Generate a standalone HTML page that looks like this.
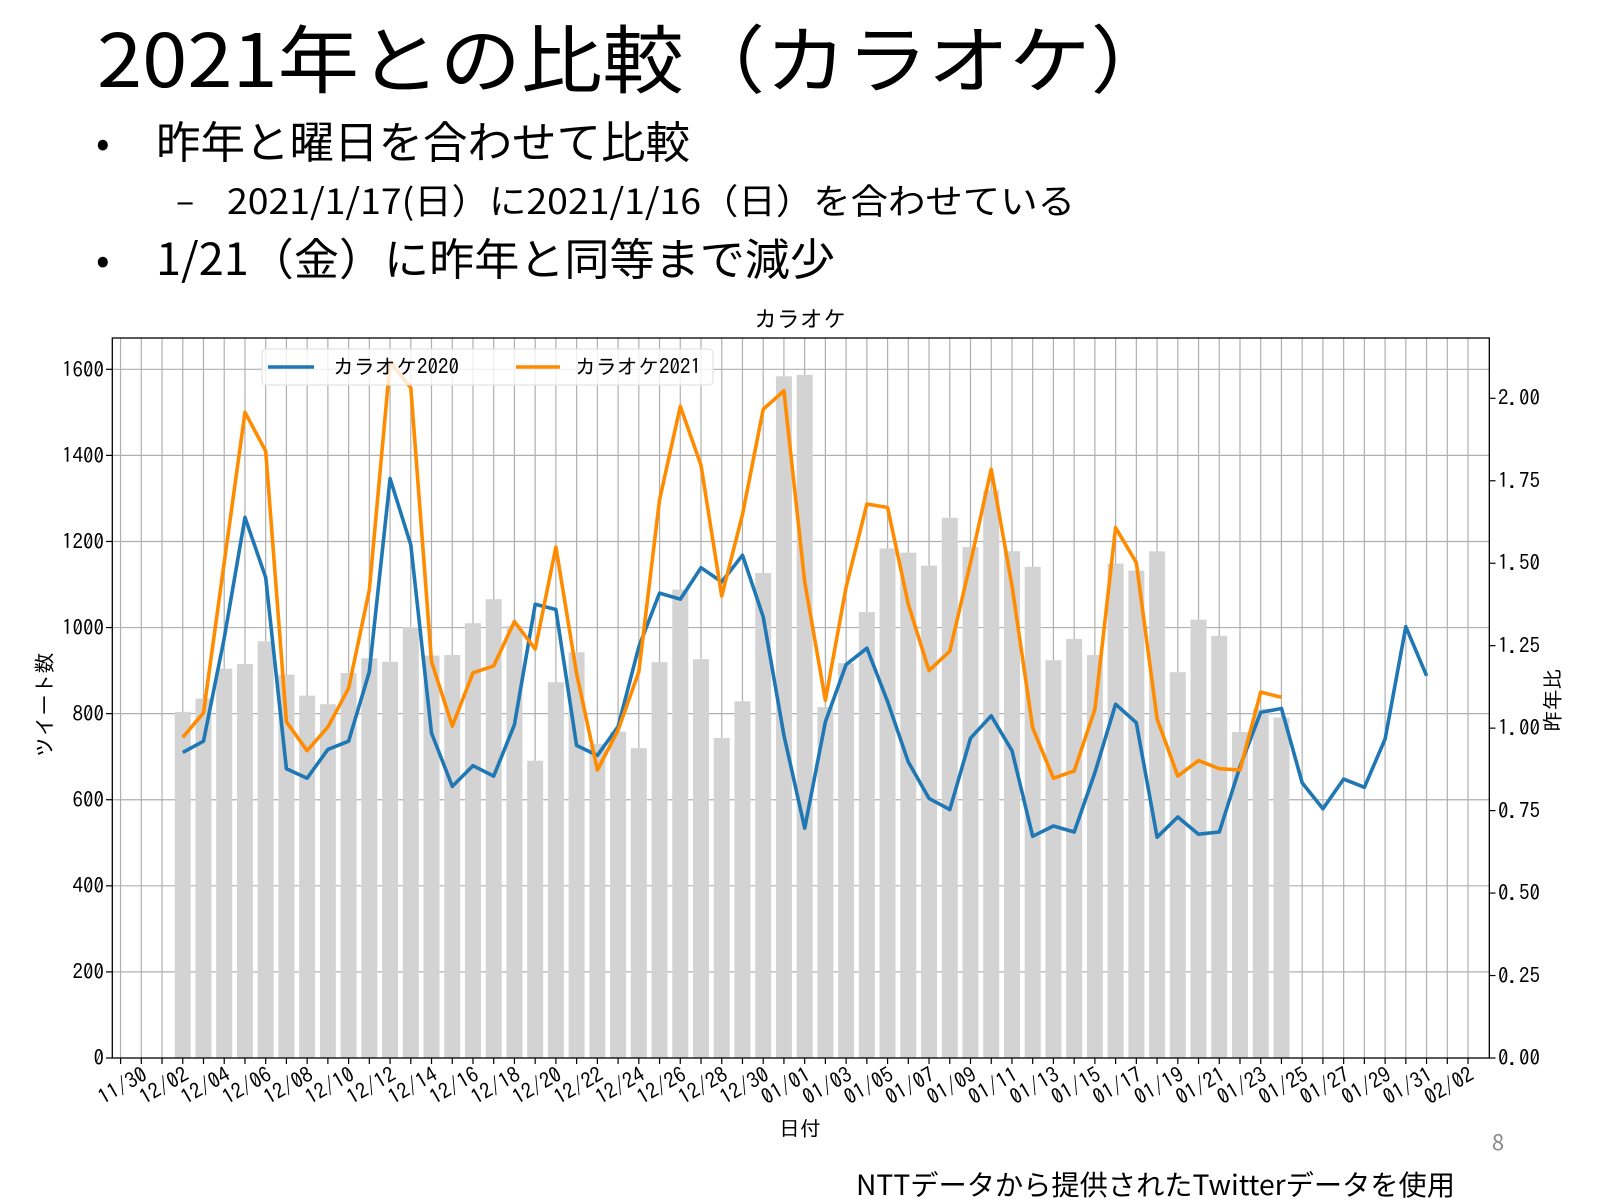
<!DOCTYPE html>
<html><head><meta charset="utf-8"><style>
body{margin:0;background:#fff;}
svg{display:block;font-family:"Noto Sans CJK JP",sans-serif;}
.t{font-family:"IPAGothic","Noto Sans CJK JP",monospace;font-size:21px;fill:#000;}
</style></head><body>
<svg id="s" width="1601" height="1200" viewBox="0 0 1601 1200" xmlns="http://www.w3.org/2000/svg">
<text x="97" y="87" font-size="74" fill="#000" textLength="1075" lengthAdjust="spacingAndGlyphs">2021年との比較（カラオケ）</text>
<text x="96" y="157" font-size="40">•</text>
<text x="156" y="158" font-size="44" textLength="534" lengthAdjust="spacingAndGlyphs">昨年と曜日を合わせて比較</text>
<text x="176" y="213" font-size="34">–</text>
<text x="227" y="214" font-size="35" textLength="848" lengthAdjust="spacingAndGlyphs">2021/1/17(日）に2021/1/16（日）を合わせている</text>
<text x="96" y="274" font-size="40">•</text>
<text x="156" y="275" font-size="44" textLength="679" lengthAdjust="spacingAndGlyphs">1/21（金）に昨年と同等まで減少</text>
<text x="800" y="327" text-anchor="middle" class="t" style="font-size:23px">カラオケ</text>
<g id="grid" stroke="#b0b0b0" stroke-width="1.2"></g>
<g id="bars" fill="#d3d3d3"></g>
<g id="lines" fill="none" stroke-width="3.6" stroke-linejoin="round"></g>
<rect x="112.3" y="338" width="1377" height="720" fill="none" stroke="#000" stroke-width="1.3"/>
<g id="ticks" stroke="#000" stroke-width="1.2"></g>
<rect x="262" y="349" width="451" height="36" rx="4" fill="#fff" fill-opacity="0.8" stroke="#ddd"/>
<line x1="268" y1="367" x2="314" y2="367" stroke="#1f77b4" stroke-width="3.6"/>
<text x="333" y="374" class="t">カラオケ2020</text>
<line x1="516" y1="367" x2="560" y2="367" stroke="#ff8c00" stroke-width="3.6"/>
<text x="575" y="374" class="t">カラオケ2021</text>
<g class="t" text-anchor="end">
<text x="104" y="1065">0</text><text x="104" y="979">200</text><text x="104" y="893">400</text><text x="104" y="807">600</text><text x="104" y="721">800</text><text x="104" y="635">1000</text><text x="104" y="549">1200</text><text x="104" y="463">1400</text><text x="104" y="377">1600</text>
</g>
<g class="t">
<text x="1498" y="1065">0.00</text><text x="1498" y="983">0.25</text><text x="1498" y="900">0.50</text><text x="1498" y="818">0.75</text><text x="1498" y="735">1.00</text><text x="1498" y="653">1.25</text><text x="1498" y="570">1.50</text><text x="1498" y="488">1.75</text><text x="1498" y="405">2.00</text>
</g>
<g class="t" text-anchor="end">
<text transform="translate(141.3,1066) rotate(-30)" y="15">11/30</text>
<text transform="translate(182.8,1066) rotate(-30)" y="15">12/02</text>
<text transform="translate(224.2,1066) rotate(-30)" y="15">12/04</text>
<text transform="translate(265.7,1066) rotate(-30)" y="15">12/06</text>
<text transform="translate(307.1,1066) rotate(-30)" y="15">12/08</text>
<text transform="translate(348.6,1066) rotate(-30)" y="15">12/10</text>
<text transform="translate(390.1,1066) rotate(-30)" y="15">12/12</text>
<text transform="translate(431.5,1066) rotate(-30)" y="15">12/14</text>
<text transform="translate(473,1066) rotate(-30)" y="15">12/16</text>
<text transform="translate(514.4,1066) rotate(-30)" y="15">12/18</text>
<text transform="translate(555.9,1066) rotate(-30)" y="15">12/20</text>
<text transform="translate(597.4,1066) rotate(-30)" y="15">12/22</text>
<text transform="translate(638.8,1066) rotate(-30)" y="15">12/24</text>
<text transform="translate(680.3,1066) rotate(-30)" y="15">12/26</text>
<text transform="translate(721.7,1066) rotate(-30)" y="15">12/28</text>
<text transform="translate(763.2,1066) rotate(-30)" y="15">12/30</text>
<text transform="translate(804.7,1066) rotate(-30)" y="15">01/01</text>
<text transform="translate(846.1,1066) rotate(-30)" y="15">01/03</text>
<text transform="translate(887.6,1066) rotate(-30)" y="15">01/05</text>
<text transform="translate(929,1066) rotate(-30)" y="15">01/07</text>
<text transform="translate(970.5,1066) rotate(-30)" y="15">01/09</text>
<text transform="translate(1012,1066) rotate(-30)" y="15">01/11</text>
<text transform="translate(1053.4,1066) rotate(-30)" y="15">01/13</text>
<text transform="translate(1094.9,1066) rotate(-30)" y="15">01/15</text>
<text transform="translate(1136.3,1066) rotate(-30)" y="15">01/17</text>
<text transform="translate(1177.8,1066) rotate(-30)" y="15">01/19</text>
<text transform="translate(1219.3,1066) rotate(-30)" y="15">01/21</text>
<text transform="translate(1260.7,1066) rotate(-30)" y="15">01/23</text>
<text transform="translate(1302.2,1066) rotate(-30)" y="15">01/25</text>
<text transform="translate(1343.6,1066) rotate(-30)" y="15">01/27</text>
<text transform="translate(1385.1,1066) rotate(-30)" y="15">01/29</text>
<text transform="translate(1426.6,1066) rotate(-30)" y="15">01/31</text>
<text transform="translate(1468,1066) rotate(-30)" y="15">02/02</text>
</g>
<text x="800" y="1136" class="t" text-anchor="middle">日付</text>
<text class="t" transform="translate(52,705) rotate(-90)" text-anchor="middle">ツイート数</text>
<text class="t" transform="translate(1560,700) rotate(-90)" text-anchor="middle">昨年比</text>
<text x="1498" y="1150" font-size="22" fill="#888" text-anchor="middle">8</text>
<text x="856" y="1195" font-size="28" textLength="599" lengthAdjust="spacingAndGlyphs">NTTデータから提供されたTwitterデータを使用</text>
</svg>
<script>
var X=function(d){return 141.3+20.73*d;},YL=function(v){return 1058-v*0.43044;},YR=function(r){return 1058-r*329.85;};
var ns="http://www.w3.org/2000/svg";
function el(p,t,a){var e=document.createElementNS(ns,t);for(var k in a)e.setAttribute(k,a[k]);document.getElementById(p).appendChild(e);}
for(var d=-1;d<=64;d++){el("grid","line",{x1:X(d),y1:338,x2:X(d),y2:1058});el("ticks","line",{x1:X(d),y1:1058,x2:X(d),y2:1064});}
for(var v=200;v<=1600;v+=200){el("grid","line",{x1:112.3,y1:YL(v),x2:1489.3,y2:YL(v)});}
for(var v=0;v<=1600;v+=200){el("ticks","line",{x1:106,y1:YL(v),x2:112.3,y2:YL(v)});}
for(var r=0;r<=2;r+=0.25){el("ticks","line",{x1:1489.3,y1:YR(r),x2:1495.5,y2:YR(r)});}
var B=[710,736,975,1256,1116,672,650,717,736,897,1346,1192,755,631,679,655,774,1054,1042,726,703,770,955,1080,1066,1139,1106,1168,1025,750,534,781,914,952,828,688,603,577,743,795,714,515,539,525,663,822,779,513,560,520,525,677,803,812,639,579,648,629,741,1002,888];
var O=[745,802,1151,1500,1410,781,714,769,859,1087,1617,1557,921,771,895,911,1014,950,1187,893,669,762,897,1296,1514,1377,1073,1263,1507,1550,1106,831,1094,1287,1279,1054,900,945,1151,1368,1097,767,650,667,810,1232,1151,788,655,691,672,669,850,838];
for(var i=0;i<O.length;i++){var r=O[i]/B[i];el("bars","rect",{x:X(i+2)-8,y:YR(r),width:16,height:1058-YR(r)});}
function path(a,c){var s="";for(var i=0;i<a.length;i++)s+=(i?"L":"M")+X(i+2).toFixed(1)+","+YL(a[i]).toFixed(1);el("lines","path",{d:s,stroke:c});}
path(B,"#1f77b4");path(O,"#ff8c00");
</script>
</body></html>
